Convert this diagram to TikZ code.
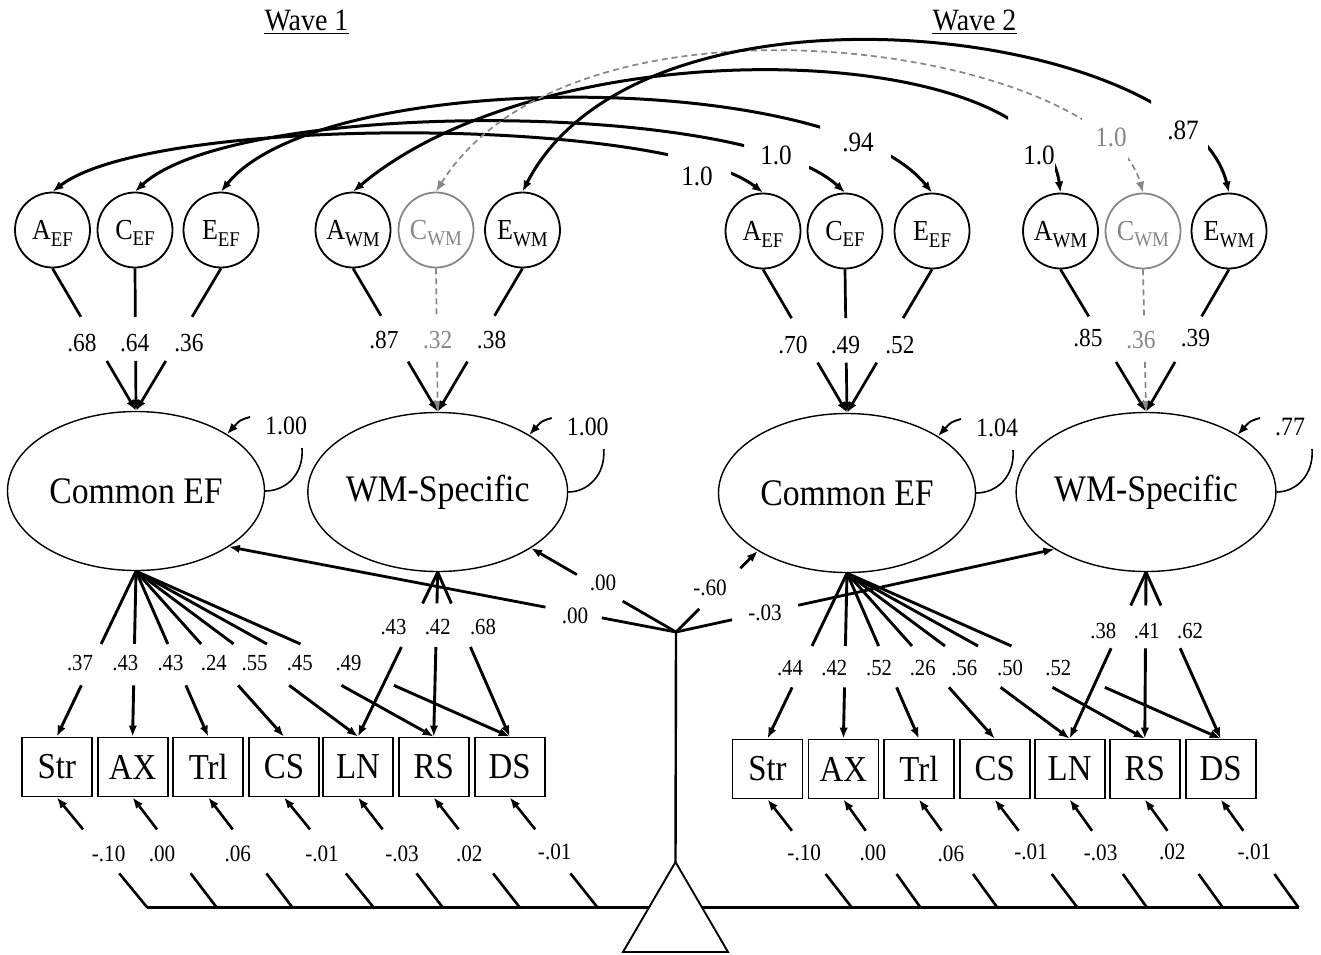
\documentclass[tikz,border=0pt]{standalone}
\usepackage{fontspec}
\setmainfont{Liberation Serif}[FakeStretch=0.9]
\usetikzlibrary{shapes.geometric,arrows.meta,calc}
\definecolor{cgray}{RGB}{135,135,135}

\newcommand\fs[1]{\fontsize{#1}{#1}\selectfont}
\newcommand\sbs[1]{\raisebox{-6.5pt}[0pt][0pt]{\fs{21}#1}}

% straight connector broken by a gap (for its label), arrow at the target end
\newcommand\gapline[5][]{%
  \draw[#1] (#2) -- ($(#2)!#4!(#3)$);
  \draw[#1,->] ($(#2)!#5!(#3)$) -- (#3);}

% cross-wave covariance curve, with a clipped gap for its label
\newcommand\covcurve[6]{%
  \begin{scope}[even odd rule]
    \clip (0,0) rectangle (1321,954) #6;
    \draw[#1] (#2) .. controls ($(#2)+#3$) and ($(#5)+#4$) .. (#5);
  \end{scope}}

\begin{document}
\begin{tikzpicture}[x=1pt,y=-1pt,
  >={Latex[length=11pt,width=8.5pt]},
  lat/.style={circle,draw,line width=1.8pt,minimum size=75pt,inner sep=0pt,font={\fs{29}}},
  fac/.style={ellipse,draw,line width=1.4pt,minimum width=257pt,minimum height=159pt,inner sep=0pt,font={\fs{37.5}}},
  obs/.style={rectangle,draw,line width=1.8pt,minimum width=70pt,minimum height=59pt,inner sep=0pt,font={\fs{36.5}}},
  title/.style={inner sep=0pt,font={\fs{31}}},
  acelab/.style={inner sep=0.5pt,font={\fs{26}}},
  loadlab/.style={inner sep=0.5pt,font={\fs{23}}},
  intlab/.style={inner sep=0.5pt,font={\fs{23.5}}},
  covlab/.style={inner sep=0.5pt,font={\fs{28}}},
  varlab/.style={inner sep=0pt,anchor=west,font={\fs{26.5}}},
  acel/.style={line width=2.7pt},
  acedash/.style={line width=1.7pt,draw=cgray,dash pattern=on 6pt off 4pt},
  load/.style={line width=2.9pt},
  intc/.style={line width=2.6pt},
  mean/.style={line width=2.8pt},
  cov/.style={line width=3pt,<->},
  covd/.style={line width=1.7pt,draw=cgray,dash pattern=on 6pt off 4pt,<->},
  vararr/.style={line width=1.9pt,->},
  vararc/.style={line width=1.6pt},
  base/.style={line width=2.6pt},
  stem/.style={line width=2.4pt},
  tri/.style={line width=1.9pt,fill=white,line join=miter}
]
\path[use as bounding box,fill=white] (0,0) rectangle (1321,954);

% wave titles
\node[title] (t1) at (306.5,20) {Wave 1};
\node[title] (t2) at (974.5,20) {Wave 2};
\draw[line width=1.7pt] ([yshift=-3.5pt]t1.base west) -- ([yshift=-3.5pt]t1.base east);
\draw[line width=1.7pt] ([yshift=-3.5pt]t2.base west) -- ([yshift=-3.5pt]t2.base east);

% ACE factors
\node[lat] (a1e) at (52.5,230) {A\sbs{EF}};
\node[lat] (c1e) at (135,230) {C\sbs{EF}};
\node[lat] (e1e) at (221,230) {E\sbs{EF}};
\node[lat] (a1w) at (353,230) {A\sbs{WM}};
\node[lat,draw=cgray,text=cgray] (c1w) at (436,230) {C\sbs{WM}};
\node[lat] (e1w) at (522.5,230) {E\sbs{WM}};
\node[lat] (a2e) at (763,231) {A\sbs{EF}};
\node[lat] (c2e) at (845,231) {C\sbs{EF}};
\node[lat] (e2e) at (932,231) {E\sbs{EF}};
\node[lat] (a2w) at (1060.5,231) {A\sbs{WM}};
\node[lat,draw=cgray,text=cgray] (c2w) at (1143,231) {C\sbs{WM}};
\node[lat] (e2w) at (1229,231) {E\sbs{WM}};

% latent factors
\node[fac] (f1e) at (136,491) {Common EF};
\node[fac] (f1w) at (437.7,492) {WM-Specific};
\node[fac] (f2e) at (847,493) {Common EF};
\node[fac] (f2w) at (1146,492) {WM-Specific};

% indicators
\foreach \n/\x/\t in {o1a/56.8/Str,o1b/132.6/AX,o1c/208.3/Trl,o1d/284/CS,o1e/358/LN,o1f/433.7/RS,o1g/509.7/DS}
  \node[obs] (\n) at (\x,767) {\t};
\foreach \n/\x/\t in {o2a/767.5/Str,o2b/843.4/AX,o2c/918.9/Trl,o2d/994.7/CS,o2e/1069.6/LN,o2f/1144.8/RS,o2g/1220.7/DS}
  \node[obs] (\n) at (\x,769) {\t};

% cross-wave covariances of the ACE components
\covcurve{cov}{a1e.north}{(100,-77)}{(-100,-77)}{a2e.north}{(668,145) rectangle (731,186)}
\covcurve{cov}{c1e.north}{(100,-93)}{(-100,-93)}{c2e.north}{(744,135) rectangle (809,180)}
\covcurve{cov}{e1e.north}{(100,-124)}{(-100,-124)}{e2e.north}{(820,118) rectangle (891,170)}
\covcurve{cov}{a1w.north}{(200,-168)}{(-20,-153)}{a2w.north}{(1008,105) rectangle (1055,176)}
\covcurve{covd}{c1w.north}{(140,-223)}{(-40,-145)}{c2w.north}{(1082,112) rectangle (1128,172)}
\covcurve{cov}{e1w.north}{(120,-233)}{(-40,-165)}{e2w.north}{(1151,98) rectangle (1208,165)}
\node[covlab] (k1) at (697,176) {1.0};
\node[covlab] (k2) at (776,155) {1.0};
\node[covlab] (k3) at (858,142) {.94};
\node[covlab] (k4) at (1039,155) {1.0};
\node[covlab,text=cgray] (k5) at (1111,137) {1.0};
\node[covlab] (k6) at (1183,130) {.87};

% ACE paths to the factors
\gapline[acel]{a1e.south}{f1e.north}{0.34}{0.65}
\gapline[acel]{c1e.south}{f1e.north}{0.34}{0.65}
\gapline[acel]{e1e.south}{f1e.north}{0.34}{0.65}
\gapline[acel]{a1w.south}{f1w.north}{0.33}{0.65}
\gapline[acedash]{c1w.south}{f1w.north}{0.33}{0.65}
\gapline[acel]{e1w.south}{f1w.north}{0.33}{0.65}
\gapline[acel]{a2e.south}{f2e.north}{0.34}{0.65}
\gapline[acel]{c2e.south}{f2e.north}{0.34}{0.65}
\gapline[acel]{e2e.south}{f2e.north}{0.34}{0.65}
\gapline[acel]{a2w.south}{f2w.north}{0.33}{0.65}
\gapline[acedash]{c2w.south}{f2w.north}{0.33}{0.65}
\gapline[acel]{e2w.south}{f2w.north}{0.33}{0.65}
\node[acelab] (p1) at (82,343) {.68};
\node[acelab] (p2) at (134.7,343) {.64};
\node[acelab] (p3) at (189,343) {.36};
\node[acelab] (p4) at (384,340) {.87};
\node[acelab,text=cgray] (p5) at (437.7,340) {.32};
\node[acelab] (p6) at (491.6,340) {.38};
\node[acelab] (p7) at (793,345) {.70};
\node[acelab] (p8) at (845.5,345) {.49};
\node[acelab] (p9) at (900,345) {.52};
\node[acelab] (p10) at (1088,338) {.85};
\node[acelab,text=cgray] (p11) at (1141,340) {.36};
\node[acelab] (p12) at (1195.5,338) {.39};

% factor variances
\foreach \f/\v in {f1e/1.00,f1w/1.00,f2e/1.04,f2w/.77}{
  \draw[vararr] ($(\f)+(114,-74)$) .. controls ($(\f)+(104,-71)$) .. (\f.32);
  \node[varlab] (v\f) at ($(\f)+(129,-65)$) {\v};
  \draw[vararc] ($(\f)+(166,-43)$) .. controls ($(\f)+(168,-17)$) and ($(\f)+(150,0)$) .. (\f.east);
}

% factor loadings
\foreach \b in {o1a,o1b,o1c,o1d,o1e,o1f,o1g}
  {\gapline[load]{f1e.south}{\b.north}{0.44}{0.69}}
\foreach \b in {o1e,o1f,o1g}
  {\gapline[load]{f1w.south}{\b.north}{0.19}{0.455}}
\foreach \b in {o2a,o2b,o2c,o2d,o2e,o2f,o2g}
  {\gapline[load]{f2e.south}{\b.north}{0.44}{0.69}}
\foreach \b in {o2e,o2f,o2g}
  {\gapline[load]{f2w.south}{\b.north}{0.2}{0.457}}
\foreach \n/\x/\t in {q1/80/.37,q2/125.4/.43,q3/170.5/.43,q4/213.8/.24,q5/254.6/.55,q6/299.7/.45,q7/348.5/.49}
  \node[loadlab] (\n) at (\x,663) {\t};
\foreach \n/\x/\t in {q8/393.5/.43,q9/437.7/.42,q10/483/.68}
  \node[loadlab] (\n) at (\x,627) {\t};
\foreach \n/\x/\t in {r1/790/.44,r2/834.3/.42,r3/879/.52,r4/922.7/.26,r5/964.3/.56,r6/1010/.50,r7/1058.3/.52}
  \node[loadlab] (\n) at (\x,668) {\t};
\foreach \n/\x/\t in {r8/1103.3/.38,r9/1146.7/.41,r10/1190/.62}
  \node[loadlab] (\n) at (\x,631) {\t};

% mean structure: constant, baseline and intercepts
\coordinate (J) at (676,632);
\coordinate (apex) at (675.5,862);
\coordinate (bend) at (1298.5,907.5);
\foreach \b/\x in {o1a/147.3,o1b/216.7,o1c/292.5,o1d/373.7,o1e/442.8,o1f/519.8,o1g/597.6,
                   o2a/851.8,o2b/920.5,o2c/997.3,o2d/1077.4,o2e/1146.9,o2f/1222.8,o2g/1298.5}{
  \coordinate (m\b) at (\x,907.5);
  \gapline[intc]{m\b}{\b.south}{0.31}{0.71}
}
\draw[base] (mo1a) -- (bend);
\draw[stem] (J) -- (apex);
\draw[tri] (apex) -- ++(-52.5,90) -- ++(105,0) -- cycle;
\foreach \n/\x/\y/\t in {u1/108.6/854/-.10,u2/162/854/.00,u3/237.8/854/.06,u4/322/854/-.01,
                         u5/402/854/-.03,u6/469.3/854/.02,u7/554.7/852/-.01,
                         u8/804.2/853/-.10,u9/872.9/853/.00,u10/950.9/854/.06,u11/1031/852/-.01,
                         u12/1100.6/853/-.03,u13/1172.2/852/.02,u14/1254.4/852/-.01}
  \node[intlab] (\n) at (\x,\y) {\t};

% factor means
\gapline[mean]{J}{f1e.-31.5}{0.166}{0.292}
\gapline[mean]{J}{f1w.-31.4}{0.368}{0.684}
\gapline[mean]{J}{f2e.-147.2}{0.285}{0.787}
\gapline[mean]{J}{f2w.-148.5}{0.148}{0.323}
\node[intlab] (w1) at (575,616) {.00};
\node[intlab] (w2) at (603,583) {.00};
\node[intlab] (w3) at (710,588) {-.60};
\node[intlab] (w4) at (765,613) {-.03};
\end{tikzpicture}
\end{document}
